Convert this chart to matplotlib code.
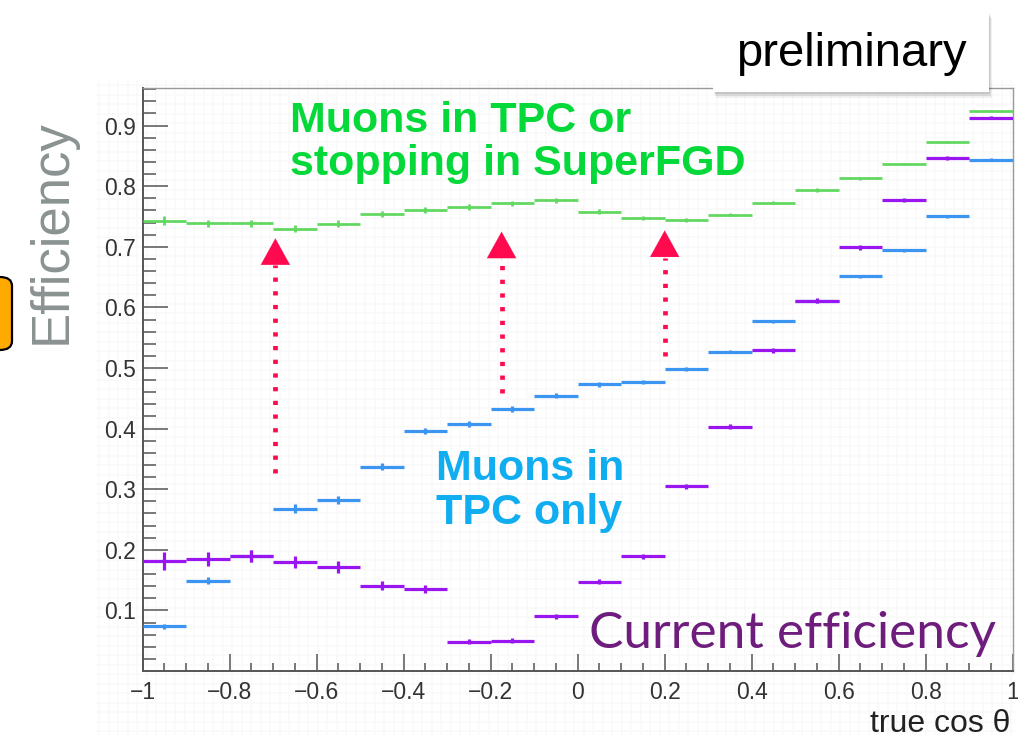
import matplotlib.pyplot as plt
from matplotlib.patches import FancyBboxPatch, Rectangle
import numpy as np

# bin centres in true cos(theta), 20 bins of width 0.1
bin_centers = [-0.95, -0.85, -0.75, -0.65, -0.55, -0.45, -0.35, -0.25, -0.15, -0.05,
               0.05, 0.15, 0.25, 0.35, 0.45, 0.55, 0.65, 0.75, 0.85, 0.95]
bin_half_width = 0.05

# muons in TPC or stopping in SuperFGD
eff_tpc_sfgd = [0.743, 0.739, 0.739, 0.730, 0.738, 0.754, 0.760, 0.766, 0.772, 0.777,
                0.758, 0.748, 0.744, 0.753, 0.773, 0.794, 0.813, 0.837, 0.873, 0.924]
err_tpc_sfgd = [0.007, 0.006, 0.006, 0.006, 0.006, 0.005, 0.005, 0.005, 0.004, 0.004,
                0.004, 0.003, 0.003, 0.003, 0.003, 0.003, 0.002, 0.002, 0.002, 0.002]

# muons in TPC only
eff_tpc = [0.074, 0.149, 0.190, 0.268, 0.282, 0.337, 0.396, 0.407, 0.432, 0.454,
           0.473, 0.477, 0.498, 0.527, 0.577, 0.611, 0.651, 0.694, 0.750, 0.844]
err_tpc = [0.004, 0.006, 0.010, 0.007, 0.007, 0.006, 0.005, 0.005, 0.005, 0.004,
           0.004, 0.004, 0.003, 0.003, 0.003, 0.003, 0.003, 0.002, 0.002, 0.002]

# current efficiency
eff_current = [0.182, 0.185, 0.190, 0.180, 0.172, 0.141, 0.135, 0.048, 0.050, 0.090,
               0.147, 0.189, 0.305, 0.403, 0.529, 0.611, 0.699, 0.777, 0.846, 0.913]
err_current = [0.015, 0.012, 0.010, 0.010, 0.010, 0.007, 0.007, 0.004, 0.004, 0.004,
               0.004, 0.004, 0.004, 0.004, 0.004, 0.004, 0.004, 0.003, 0.003, 0.002]

# improvement arrows: x position, bottom of dotted shaft, base and tip of head
arrow_x = [-0.695, -0.175, 0.20]
arrow_bottom = [0.327, 0.458, 0.520]
arrow_head_base = [0.670, 0.681, 0.681]
arrow_tip = [0.714, 0.725, 0.727]

x_ticks = [-1, -0.8, -0.6, -0.4, -0.2, 0, 0.2, 0.4, 0.6, 0.8, 1]
x_tick_labels = ['\u22121', '\u22120.8', '\u22120.6', '\u22120.4', '\u22120.2', '0',
                 '0.2', '0.4', '0.6', '0.8', '1']
y_ticks = [0.1, 0.2, 0.3, 0.4, 0.5, 0.6, 0.7, 0.8, 0.9]
y_tick_labels = ['0.1', '0.2', '0.3', '0.4', '0.5', '0.6', '0.7', '0.8', '0.9']

W, H = 1018, 739
plt.rcParams['font.family'] = ['Liberation Sans', 'DejaVu Sans']

fig = plt.figure(figsize=(W / 100, H / 100), dpi=100)
fig.patch.set_facecolor('white')


def fx(px):
    return px / W


def fy(py):
    return 1 - py / H


# faint screenshot-like grid behind the frame
bg = fig.add_axes([fx(95), fy(735), fx(1015) - fx(95), fy(80) - fy(735)])
bg.set_xlim(0, 920)
bg.set_ylim(0, 655)
for gx in np.arange(4, 920, 9.5):
    bg.axvline(gx, color='#f9f9f9', lw=1.2, zorder=0)
for gy in np.arange(4, 655, 9.5):
    bg.axhline(gy, color='#f9f9f9', lw=1.2, zorder=0)
bg.axis('off')

ax = fig.add_axes([fx(142.7), fy(671), fx(1012.7) - fx(142.7), fy(88) - fy(671)])
ax.patch.set_alpha(0)
ax.set_xlim(-1, 1)
ax.set_ylim(0, 0.962)

ax.errorbar(bin_centers, eff_tpc_sfgd, xerr=bin_half_width, yerr=err_tpc_sfgd,
            fmt='none', ecolor='#62d862', elinewidth=2.0, capsize=0, zorder=3)
ax.errorbar(bin_centers, eff_tpc, xerr=bin_half_width, yerr=err_tpc,
            fmt='none', ecolor='#3d95f2', elinewidth=2.3, capsize=0, zorder=3)
ax.errorbar(bin_centers, eff_current, xerr=bin_half_width, yerr=err_current,
            fmt='none', ecolor='#9a16f0', elinewidth=2.3, capsize=0, zorder=4)

for xa, yb, yh, yt in zip(arrow_x, arrow_bottom, arrow_head_base, arrow_tip):
    ax.plot([xa, xa], [yb, yh], color='#ff0a4e', lw=3.4,
            linestyle=(0, (0.9, 2.0)), dash_capstyle='butt', zorder=5)
    ax.annotate('', xy=(xa, yt), xytext=(xa, yh - 0.004),
                arrowprops=dict(arrowstyle='-|>,head_length=1.9,head_width=1.05',
                                color='#ff0a4e', lw=0.1, shrinkA=0, shrinkB=0),
                zorder=5)

ax.set_xticks(x_ticks)
ax.set_xticklabels(x_tick_labels)
ax.set_xticks(np.arange(-1, 1.001, 0.05), minor=True)
ax.set_yticks(y_ticks)
ax.set_yticklabels(y_tick_labels)
ax.set_yticks(np.arange(0.02, 0.961, 0.02), minor=True)

ax.tick_params(axis='both', which='both', direction='in', colors='#555555',
               labelcolor='#333333', width=1.1)
ax.tick_params(axis='y', which='major', length=18, labelsize=16.5, pad=5)
ax.tick_params(axis='y', which='minor', length=9)
ax.tick_params(axis='x', which='major', length=12, labelsize=16.5, pad=7)
ax.tick_params(axis='x', which='minor', length=6)

for side in ['left', 'bottom']:
    ax.spines[side].set_color('#555555')
    ax.spines[side].set_linewidth(1.4)
for side in ['top', 'right']:
    ax.spines[side].set_color('#999999')
    ax.spines[side].set_linewidth(1.0)

fig.text(fx(1010), fy(732), 'true cos \u03b8', ha='right', va='baseline',
         fontsize=23, color='#222222')

# annotations on the plot
fig.text(fx(290), fy(101), 'Muons in TPC or\nstopping in SuperFGD', ha='left', va='top',
         fontsize=31, fontweight='bold', color='#05d93a', linespacing=1.1)
fig.text(fx(436), fy(449), 'Muons in\nTPC only', ha='left', va='top',
         fontsize=31, fontweight='bold', color='#10aef0', linespacing=1.12)
fig.text(fx(589), fy(648), 'Current efficiency', ha='left', va='baseline',
         fontsize=37, color='#6e1d7c', family=['Lato', 'DejaVu Sans'])

fig.text(fx(52), fy(232), 'Efficiency', rotation=90, ha='center', va='center',
         fontsize=38, color='#8a9292')

# "preliminary" label box with a soft shadow
for off, a in [(6, 0.06), (4, 0.08), (2, 0.10)]:
    fig.patches.append(Rectangle((fx(713 + off / 2), fy(92 + off)), fx(276), fy(0) - fy(80),
                                 transform=fig.transFigure, facecolor='black',
                                 edgecolor='none', alpha=a, zorder=8))
fig.patches.append(Rectangle((fx(713), fy(92)), fx(276), fy(0) - fy(80),
                             transform=fig.transFigure, facecolor='white',
                             edgecolor='none', zorder=9))
fig.text(fx(851), fy(54), 'preliminary', ha='center', va='center',
         fontsize=34, color='black', zorder=10)

# clipped orange tab at the left edge
fig.patches.append(FancyBboxPatch((fx(-30), fy(350)), fx(42), fy(277) - fy(350),
                                  boxstyle='round,pad=0,rounding_size=0.012',
                                  transform=fig.transFigure, facecolor='#ffaa00',
                                  edgecolor='black', linewidth=1.6, zorder=9))

fig.savefig('out.png', dpi=100)
